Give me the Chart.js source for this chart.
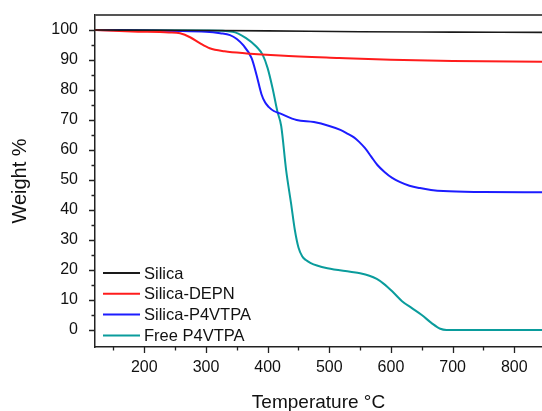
<!DOCTYPE html>
<html>
<head>
<meta charset="utf-8">
<script src="https://cdn.jsdelivr.net/npm/chart.js@4"></script>
<style>
  html, body { margin:0; padding:0; background:#fff; }
  canvas { display:block; }
</style>
</head>
<body>
<canvas id="tgaChart" width="542" height="411"></canvas>
<script>
const seriesNames = ['Silica', 'Silica-DEPN', 'Silica-P4VTPA', 'Free P4VTPA']
const seriesColors = ['#1a1a1a', '#ff1c1c', '#1c1cff', '#0a9c9c']

// TGA curves: temperature (°C) / remaining weight (%)
const silicaTemp = [120, 250, 400, 550, 700, 845]
const silicaWeight = [100, 99.9, 99.7, 99.4, 99.3, 99.2]

const depnTemp = [120, 180, 240, 258, 275, 290, 306, 330, 366, 420, 516, 600, 700, 845]
const depnWeight = [100, 99.5, 99.2, 98.9, 97.5, 95.6, 93.9, 92.9, 92.2, 91.5, 90.7, 90.1, 89.7, 89.4]

const graftTemp = [120, 250, 300, 323, 339, 350, 360, 374, 382, 390, 396, 402, 410, 420, 447, 475, 500, 518, 530, 540, 548, 558, 568, 578, 590, 602, 615, 630, 647, 665, 685, 750, 845]
const graftWeight = [100, 99.7, 99.4, 98.9, 98.3, 97.0, 95.0, 90.6, 85.0, 78.6, 75.8, 74.3, 73.0, 72.2, 70.0, 69.3, 68.0, 66.7, 65.4, 64.2, 62.8, 60.6, 57.8, 55.0, 52.6, 50.7, 49.3, 48.1, 47.3, 46.7, 46.3, 46.0, 45.9]

const freeTemp = [120, 300, 343, 365, 382, 392, 400, 408, 416, 422, 430, 438, 444, 450, 456, 462, 470, 480, 497, 534, 550, 565, 577, 589, 602, 618, 634, 650, 666, 680, 690, 845]
const freeWeight = [100, 99.8, 99.4, 97.3, 94.4, 91.7, 87.3, 80.6, 72.7, 68.0, 53.3, 42.2, 33.5, 27.5, 24.6, 23.3, 22.3, 21.5, 20.6, 19.4, 18.9, 18.1, 17.0, 15.3, 12.9, 9.6, 7.3, 5.0, 2.3, 0.4, 0.0, 0.0]

const xMajorTicks = [200, 300, 400, 500, 600, 700, 800]
const xMinorTicks = [150, 250, 350, 450, 550, 650, 750]
const yMajorTicks = [0, 10, 20, 30, 40, 50, 60, 70, 80, 90, 100]
const yMinorTicks = [5, 15, 25, 35, 45, 55, 65, 75, 85, 95]

const FONT = 'Liberation Sans, Arial, sans-serif'

function toPoints(temps, weights) {
  return temps.map((t, i) => ({ x: t, y: weights[i] }))
}

const curves = [
  toPoints(silicaTemp, silicaWeight),
  toPoints(depnTemp, depnWeight),
  toPoints(graftTemp, graftWeight),
  toPoints(freeTemp, freeWeight),
]

// top frame line + outward tick marks (major long, minor short)
const axisFrame = {
  id: 'axisFrame',
  afterDraw(chart) {
    const { ctx, chartArea: a, scales } = chart
    ctx.save()
    ctx.strokeStyle = '#555'
    ctx.lineWidth = 2
    ctx.beginPath()
    ctx.moveTo(a.left, a.top)
    ctx.lineTo(a.right, a.top)
    ctx.stroke()

    ctx.strokeStyle = '#222'
    ctx.lineWidth = 1.3
    ctx.beginPath()
    xMajorTicks.concat(xMinorTicks).forEach(v => {
      const px = Math.round(scales.x.getPixelForValue(v)) + 0.5
      const len = xMajorTicks.includes(v) ? 6 : 3.5
      ctx.moveTo(px, a.bottom)
      ctx.lineTo(px, a.bottom + len)
    })
    yMajorTicks.concat(yMinorTicks).forEach(v => {
      const py = Math.round(scales.y.getPixelForValue(v)) + 0.5
      const len = yMajorTicks.includes(v) ? 6 : 3.5
      ctx.moveTo(a.left, py)
      ctx.lineTo(a.left - len, py)
    })
    ctx.stroke()
    ctx.restore()
  }
}

// legend sitting inside the plot, lower left
const insetLegend = {
  id: 'insetLegend',
  afterDraw(chart) {
    const { ctx } = chart
    ctx.save()
    ctx.font = '16.5px ' + FONT
    ctx.textBaseline = 'middle'
    ctx.textAlign = 'left'
    chart.data.datasets.forEach((ds, i) => {
      const y = 273 + i * 20.8
      ctx.strokeStyle = ds.borderColor
      ctx.lineWidth = 2
      ctx.beginPath()
      ctx.moveTo(103, y)
      ctx.lineTo(140, y)
      ctx.stroke()
      ctx.fillStyle = '#111'
      ctx.fillText(ds.label, 144, y + 1)
    })
    ctx.restore()
  }
}

new Chart(document.getElementById('tgaChart').getContext('2d'), {
  type: 'line',
  data: {
    datasets: curves.map((pts, i) => ({
      label: seriesNames[i],
      data: pts,
      borderColor: seriesColors[i],
      borderWidth: i === 0 ? 1.6 : 2,
      pointRadius: 0,
      fill: false,
      cubicInterpolationMode: 'monotone',
    }))
  },
  options: {
    responsive: false,
    animation: false,
    layout: { padding: { top: 15, right: 0, left: 0, bottom: 0 } },
    plugins: { legend: { display:false }, tooltip: { enabled:false } },
    scales: {
      x: {
        type: 'linear', min: 120, max: 845,
        afterBuildTicks: s => { s.ticks = xMajorTicks.concat(xMinorTicks).sort((a, b) => a - b).map(v => ({ value: v })) },
        afterFit: s => { s.height = 64; s.paddingLeft = 0; s.paddingRight = 0 },
        grid: { display:false, drawTicks:false },
        border: { display:true, color:'#222', width:1.5 },
        ticks: {
          padding: 11, color:'#111', autoSkip:false, maxRotation:0,
          font: { family: FONT, size: 16 },
          callback: v => xMajorTicks.includes(v) ? String(v) : ''
        },
        title: { display:true, text:'Temperature °C', color:'#111', padding:0, font: { family: FONT, size: 19, lineHeight: 0.85 } }
      },
      y: {
        type: 'linear', min: -5.67, max: 105,
        afterBuildTicks: s => { s.ticks = yMajorTicks.concat(yMinorTicks).sort((a, b) => a - b).map(v => ({ value: v })) },
        afterFit: s => { s.width = 95; s.paddingTop = 0; s.paddingBottom = 0 },
        grid: { display:false, drawTicks:false },
        border: { display:true, color:'#222', width:1.5 },
        ticks: {
          padding: 17, color:'#111', autoSkip:false,
          font: { family: FONT, size: 16 },
          callback: v => yMajorTicks.includes(v) ? String(v) : ''
        },
        title: { display:true, text:'Weight %', color:'#111', padding: { top: 8, bottom: 0 }, font: { family: FONT, size: 20 } }
      }
    }
  },
  plugins: [axisFrame, insetLegend]
})
</script>
</body>
</html>
